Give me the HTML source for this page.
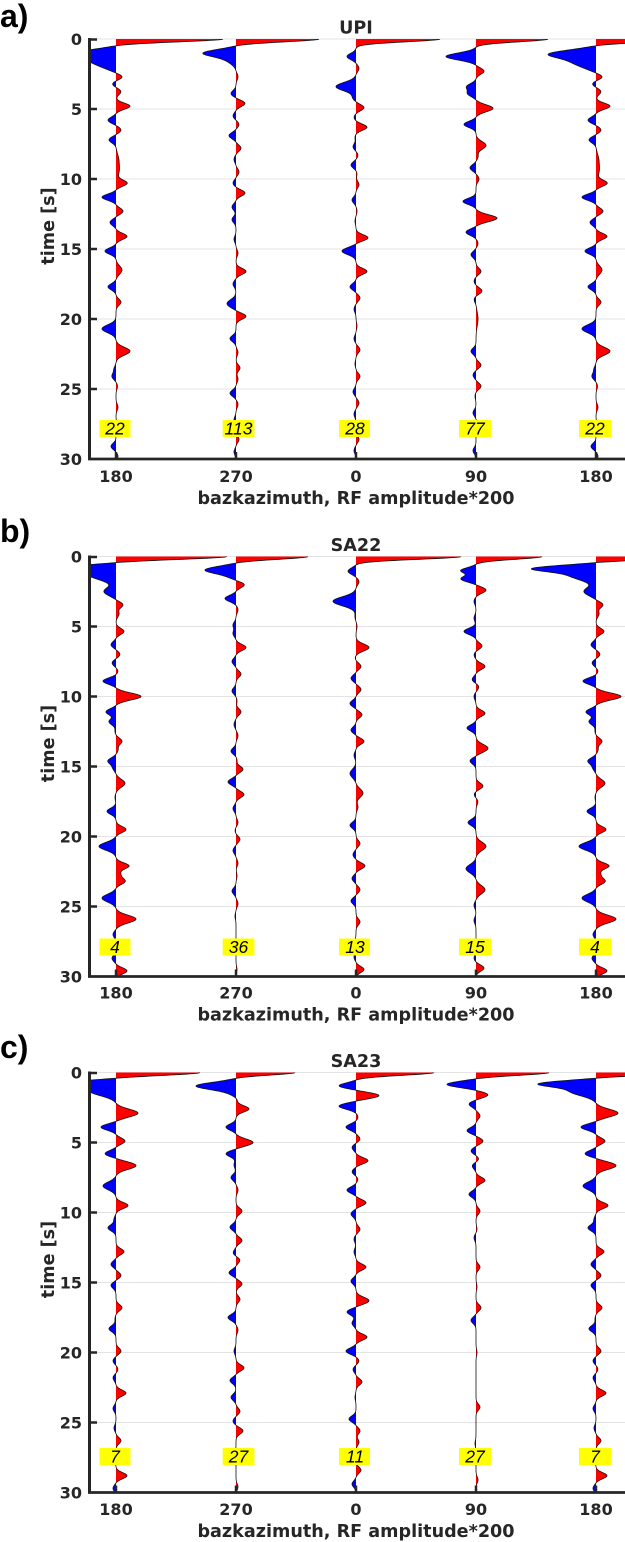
<!DOCTYPE html>
<html><head><meta charset="utf-8">
<style>
html,body{margin:0;padding:0;background:#fff;}
svg{display:block;}
.tk{font-family:"DejaVu Sans",sans-serif;font-weight:bold;font-size:16px;fill:#262626;}
.lb{font-family:"DejaVu Sans",sans-serif;font-weight:bold;font-size:17.6px;fill:#262626;}
.pl{font-family:"Liberation Sans",sans-serif;font-weight:bold;font-size:32px;fill:#000;}
.nm{font-family:"Liberation Sans",sans-serif;font-style:italic;font-size:17.5px;fill:#000;}
.gr{stroke:#e3e3e3;stroke-width:1;}
.ax{stroke:#262626;fill:none;}
</style></head><body>
<svg id="s" width="625" height="1542" viewBox="0 0 625 1542" xmlns="http://www.w3.org/2000/svg">
<defs>
<clipPath id="ca"><rect x="90.5" y="39" width="540" height="420"/></clipPath>
<clipPath id="cb"><rect x="90.5" y="556.5" width="540" height="420"/></clipPath>
<clipPath id="cc"><rect x="90.5" y="1072.5" width="540" height="420"/></clipPath>
</defs>

<text class="pl" x="0" y="27">a)</text>
<text class="pl" x="0" y="542">b)</text>
<text class="pl" x="0" y="1058">c)</text>

<!-- ============ PANEL A ============ -->
<g transform="translate(0,39)">
<g class="gr"><line x1="91" x2="625" y1="0" y2="0"/><line x1="91" x2="625" y1="70" y2="70"/><line x1="91" x2="625" y1="140" y2="140"/><line x1="91" x2="625" y1="210" y2="210"/><line x1="91" x2="625" y1="280" y2="280"/><line x1="91" x2="625" y1="350" y2="350"/></g>
</g>
<g id="ta" clip-path="url(#ca)"></g>
<g transform="translate(0,39)">
<line class="ax" x1="89.5" x2="89.5" y1="-1" y2="421" stroke-width="3"/>
<line class="ax" x1="88" x2="625" y1="420" y2="420" stroke-width="2.8"/>
<g class="ax" stroke-width="2.5"><line x1="89.5" x2="97" y1="0.5" y2="0.5"/><line x1="89.5" x2="97" y1="70" y2="70"/><line x1="89.5" x2="97" y1="140" y2="140"/><line x1="89.5" x2="97" y1="210" y2="210"/><line x1="89.5" x2="97" y1="280" y2="280"/><line x1="89.5" x2="97" y1="350" y2="350"/></g>
<g class="ax" stroke-width="2.5"><line x1="116" x2="116" y1="420" y2="413"/><line x1="236" x2="236" y1="420" y2="413"/><line x1="356" x2="356" y1="420" y2="413"/><line x1="476" x2="476" y1="420" y2="413"/><line x1="596" x2="596" y1="420" y2="413"/></g>
<g class="tk" text-anchor="end"><text x="82" y="6">0</text><text x="82" y="76">5</text><text x="82" y="146">10</text><text x="82" y="216">15</text><text x="82" y="286">20</text><text x="82" y="356">25</text><text x="82" y="426">30</text></g>
<g class="tk" text-anchor="middle"><text x="116" y="443">180</text><text x="236" y="443">270</text><text x="356" y="443">0</text><text x="476" y="443">90</text><text x="596" y="443">180</text></g>
<text class="lb" x="356" y="465" text-anchor="middle">bazkazimuth, RF amplitude*200</text>
<text class="lb" text-anchor="middle" transform="translate(54,187) rotate(-90)">time [s]</text>
<text class="lb" x="356" y="-5.5" text-anchor="middle">UPI</text>
<g fill="#ffff00"><rect x="99.5" y="381" width="31" height="17"/><rect x="222.7" y="381" width="31.7" height="17"/><rect x="339" y="381" width="31" height="17"/><rect x="459" y="381" width="32" height="17"/><rect x="579" y="381" width="32" height="17"/></g>
<g class="nm" text-anchor="middle"><text x="115" y="395.5">22</text><text x="238.5" y="395.5">113</text><text x="355" y="395.5">28</text><text x="475" y="395.5">77</text><text x="595" y="395.5">22</text></g>
</g>

<!-- ============ PANEL B ============ -->
<g transform="translate(0,556.5)">
<g class="gr"><line x1="91" x2="625" y1="0" y2="0"/><line x1="91" x2="625" y1="70" y2="70"/><line x1="91" x2="625" y1="140" y2="140"/><line x1="91" x2="625" y1="210" y2="210"/><line x1="91" x2="625" y1="280" y2="280"/><line x1="91" x2="625" y1="350" y2="350"/></g>
</g>
<g id="tb" clip-path="url(#cb)"></g>
<g transform="translate(0,556.5)">
<line class="ax" x1="89.5" x2="89.5" y1="-1" y2="421" stroke-width="3"/>
<line class="ax" x1="88" x2="625" y1="420" y2="420" stroke-width="2.8"/>
<g class="ax" stroke-width="2.5"><line x1="89.5" x2="97" y1="0.5" y2="0.5"/><line x1="89.5" x2="97" y1="70" y2="70"/><line x1="89.5" x2="97" y1="140" y2="140"/><line x1="89.5" x2="97" y1="210" y2="210"/><line x1="89.5" x2="97" y1="280" y2="280"/><line x1="89.5" x2="97" y1="350" y2="350"/></g>
<g class="ax" stroke-width="2.5"><line x1="116" x2="116" y1="420" y2="413"/><line x1="236" x2="236" y1="420" y2="413"/><line x1="356" x2="356" y1="420" y2="413"/><line x1="476" x2="476" y1="420" y2="413"/><line x1="596" x2="596" y1="420" y2="413"/></g>
<g class="tk" text-anchor="end"><text x="82" y="6">0</text><text x="82" y="76">5</text><text x="82" y="146">10</text><text x="82" y="216">15</text><text x="82" y="286">20</text><text x="82" y="356">25</text><text x="82" y="426">30</text></g>
<g class="tk" text-anchor="middle"><text x="116" y="442">180</text><text x="236" y="442">270</text><text x="356" y="442">0</text><text x="476" y="442">90</text><text x="596" y="442">180</text></g>
<text class="lb" x="356" y="464" text-anchor="middle">bazkazimuth, RF amplitude*200</text>
<text class="lb" text-anchor="middle" transform="translate(54,187) rotate(-90)">time [s]</text>
<text class="lb" x="356" y="-5.5" text-anchor="middle">SA22</text>
<g fill="#ffff00"><rect x="99.5" y="382" width="31" height="17"/><rect x="222.7" y="382" width="31.7" height="17"/><rect x="339" y="382" width="31" height="17"/><rect x="459" y="382" width="32" height="17"/><rect x="579" y="382" width="32" height="17"/></g>
<g class="nm" text-anchor="middle"><text x="115" y="396.5">4</text><text x="238.5" y="396.5">36</text><text x="355" y="396.5">13</text><text x="475" y="396.5">15</text><text x="595" y="396.5">4</text></g>
</g>

<!-- ============ PANEL C ============ -->
<g transform="translate(0,1072.5)">
<g class="gr"><line x1="91" x2="625" y1="0" y2="0"/><line x1="91" x2="625" y1="70" y2="70"/><line x1="91" x2="625" y1="140" y2="140"/><line x1="91" x2="625" y1="210" y2="210"/><line x1="91" x2="625" y1="280" y2="280"/><line x1="91" x2="625" y1="350" y2="350"/></g>
</g>
<g id="tc" clip-path="url(#cc)"></g>
<g transform="translate(0,1072.5)">
<line class="ax" x1="89.5" x2="89.5" y1="-1" y2="421" stroke-width="3"/>
<line class="ax" x1="88" x2="625" y1="420" y2="420" stroke-width="2.8"/>
<g class="ax" stroke-width="2.5"><line x1="89.5" x2="97" y1="0.5" y2="0.5"/><line x1="89.5" x2="97" y1="70" y2="70"/><line x1="89.5" x2="97" y1="140" y2="140"/><line x1="89.5" x2="97" y1="210" y2="210"/><line x1="89.5" x2="97" y1="280" y2="280"/><line x1="89.5" x2="97" y1="350" y2="350"/></g>
<g class="ax" stroke-width="2.5"><line x1="116" x2="116" y1="420" y2="413"/><line x1="236" x2="236" y1="420" y2="413"/><line x1="356" x2="356" y1="420" y2="413"/><line x1="476" x2="476" y1="420" y2="413"/><line x1="596" x2="596" y1="420" y2="413"/></g>
<g class="tk" text-anchor="end"><text x="82" y="6">0</text><text x="82" y="76">5</text><text x="82" y="146">10</text><text x="82" y="216">15</text><text x="82" y="286">20</text><text x="82" y="356">25</text><text x="82" y="426">30</text></g>
<g class="tk" text-anchor="middle"><text x="116" y="442.5">180</text><text x="236" y="442.5">270</text><text x="356" y="442.5">0</text><text x="476" y="442.5">90</text><text x="596" y="442.5">180</text></g>
<text class="lb" x="356" y="464.5" text-anchor="middle">bazkazimuth, RF amplitude*200</text>
<text class="lb" text-anchor="middle" transform="translate(54,187) rotate(-90)">time [s]</text>
<text class="lb" x="356" y="-5.5" text-anchor="middle">SA23</text>
<g fill="#ffff00"><rect x="99.5" y="375.5" width="31" height="17"/><rect x="222.7" y="375.5" width="31.7" height="17"/><rect x="339" y="375.5" width="31" height="17"/><rect x="459" y="375.5" width="32" height="17"/><rect x="579" y="375.5" width="32" height="17"/></g>
<g class="nm" text-anchor="middle"><text x="115" y="390">7</text><text x="238.5" y="390">27</text><text x="355" y="390">11</text><text x="475" y="390">27</text><text x="595" y="390">7</text></g>
</g>
</svg>

<script>
(function(){
var A1=[[0,107,0.2],[1.05,-40,0.28],[1.65,-22,0.4],[2.7,7],[3.2,-4],[3.75,5],[4.8,14],[5.8,-8],[6.5,5],[7.2,-7],[8.6,2.5,0.4],[9.4,3,0.4],[10.3,11],[11.3,-14],[12.3,7],[13.1,-6],[14.1,11],[15.15,-11],[16.5,6,0.3],[17.7,-8],[18.8,5],[20.7,-14,0.28],[22.3,14,0.28],[23.6,-2],[24.1,-4],[24.8,1.5],[26.3,2],[27.7,4],[29.1,-5],[29.8,2]];
var A2=[[0,83,0.2],[1.0,-31,0.25],[1.5,-8,0.3],[2.7,2],[3.9,-5],[4.6,9],[5.5,-3],[6.1,3],[6.9,-7],[7.8,5],[8.6,-2],[9.5,3],[10.3,-3],[11.0,9],[12.0,-4],[12.9,-4],[14.3,-2],[15.3,2],[16.6,10],[17.5,-3],[18.9,-9,0.28],[19.8,10],[21.4,-6],[22.4,2],[23.5,4],[24.3,2],[25.3,-6],[26.1,2],[27.2,-2],[28.6,3],[29.5,-2]];
var A3=[[0,84,0.2],[1.25,-9,0.22],[2.1,3],[3.4,-20,0.3],[4.2,-3],[4.9,8],[5.6,-2],[6.3,11],[7.0,-1],[7.7,-3],[8.3,2],[9.0,-5],[9.6,1],[10.4,3],[11.5,-4],[12.3,1],[13.0,-1],[14.2,12],[15.15,-14,0.25],[16.6,11],[17.7,-6],[18.5,4],[19.3,-2],[20.5,1],[21.4,-2],[22.2,4],[23.2,-1],[24.1,4],[25.2,-3],[26.0,3],[26.8,-2],[28.6,3],[29.4,-2]];
var A4=[[0,72,0.2],[1.25,-30,0.25],[2.3,8],[3.4,-9,0.22],[3.9,-8,0.22],[4.95,17,0.25],[6.1,-12],[7.6,10,0.28],[8.4,2],[9.2,-6],[10.0,3],[11.6,-13],[12.8,21,0.25],[13.8,-10],[14.6,2],[15.4,-5],[16.6,5],[17.3,-2],[18.0,6],[18.6,-2],[20.0,2,0.5],[22.3,-5],[23.3,5],[24.0,-3],[24.8,5],[25.5,-1],[26.7,-3],[27.5,1],[29.4,-3]];

var B1=[[0,111,0.2],[0.85,-55,0.22],[1.35,-25,0.35],[2.5,-12,0.3],[3.45,7],[4.1,3],[5.35,8],[6.3,-5],[7.0,4],[7.6,-4],[8.2,2],[8.9,-13],[10.0,25,0.25],[11.1,-10],[11.8,-7],[12.5,-1],[13.2,6],[13.8,2],[14.6,-8],[15.1,-3],[16.2,9,0.28],[17.2,-1],[18.2,-9],[19.5,10],[20.7,-17,0.28],[22.1,13],[22.7,4],[23.2,9],[24.4,-14,0.28],[25.9,20,0.28],[27.0,-3],[28.7,-4],[29.6,11]];
var B2=[[0,72,0.2],[0.95,-29,0.25],[1.4,-6,0.3],[2.0,9],[3.0,-11],[3.8,2],[4.9,-3],[5.5,-3],[6.5,10],[7.5,-4],[8.4,5],[9.6,-4],[10.3,1],[11.1,5],[12.0,-2],[12.8,2],[13.9,-5],[14.5,1],[15.2,7],[16.1,-8],[17.0,8],[18.0,-3],[19.0,2],[19.6,-1],[20.2,4],[21.0,-3],[21.9,2],[22.8,1],[23.9,-4],[24.8,2],[25.7,-1],[29.5,1]];
var B3=[[0,105,0.2],[1.05,-8],[1.8,3],[3.2,-23,0.32],[4.3,-1],[5.0,1],[6.5,13,0.25],[7.2,-1],[7.85,5],[8.7,-5],[9.5,5],[10.5,-6],[11.3,6],[12.4,-5],[13.2,8],[14.2,-2],[15.5,-6,0.3],[16.9,7,0.3],[17.9,2],[19.2,-6],[20.5,4],[21.3,-3],[22.1,9],[23.0,-4],[23.8,4],[24.6,-5],[26.1,4],[27.5,-1],[28.6,-2],[29.5,8]];
var B4=[[0,66,0.2],[1.0,-15,0.2],[1.6,-15,0.22],[2.4,10],[3.2,-2],[4.4,-2],[5.35,-12],[6.4,6],[7.0,-2],[7.85,9],[8.8,-4],[9.3,3],[10.0,-2],[11.2,9],[12.25,-9],[13.7,12,0.28],[14.6,-6],[16.4,7],[17.0,-2],[17.5,2],[19.0,-8],[20.7,10,0.3],[22.3,-10,0.3],[23.8,9,0.3],[24.9,-2],[26.0,-2],[28.7,-2],[29.4,8]];

var C1=[[0,84,0.2],[0.8,-52,0.22],[1.35,-25,0.32],[2.9,22,0.28],[3.9,-15],[4.9,9],[5.8,-11],[6.65,20,0.27],[8.1,-13,0.28],[9.5,12],[10.5,-2],[11.1,-8],[12.8,8],[13.7,-5],[14.5,5],[15.2,-5],[16.8,6],[17.6,-1],[18.3,-7],[19.9,5],[20.6,-3],[21.2,2],[21.8,-3],[22.9,10],[24.0,-3],[25.4,-2],[26.3,5],[27.7,-1],[28.8,11],[29.7,-3]];
var C2=[[0,59,0.18],[0.95,-38,0.25],[1.4,-6,0.3],[1.9,2],[2.6,13],[3.9,-10],[5.0,17,0.25],[5.8,-10],[6.6,-2],[7.5,-5],[8.4,2],[9.9,6],[11.05,-6],[12.0,6],[12.9,-3],[13.4,4],[14.3,-7],[15.1,6],[16.2,4],[17.5,-8],[18.4,2],[19.9,-2],[21.1,8],[22.0,-6],[23.2,-5],[24.2,4],[24.9,-3],[25.6,7],[27.3,-2],[29.6,2]];
var C3=[[0,78,0.2],[0.95,-17,0.2],[1.65,23,0.22],[2.4,-17,0.22],[3.2,2],[3.9,-10],[4.75,4],[5.35,-4],[6.3,12],[7.1,-4],[7.6,2],[8.4,-9],[9.3,10],[10.1,-5],[11.2,4],[11.9,-2],[12.8,-2],[13.9,10],[14.9,-5],[16.3,13,0.25],[17.1,-9],[17.9,-4],[18.9,11],[19.9,-10],[20.6,3],[21.2,-3],[22.1,6],[23.2,-1],[24.75,-7],[25.6,4],[26.4,3],[28.4,5],[29.4,-4]];
var C4=[[0,73,0.2],[0.85,-29,0.22],[1.6,12],[2.25,-7],[3.1,4],[4.15,-9],[4.9,7],[5.6,-5],[6.2,3],[6.65,-4],[7.7,9],[8.7,-7],[9.9,4],[11.2,1],[11.8,-2],[13.9,4],[15.3,1],[16.8,5],[17.7,-5],[20.0,1],[23.9,4],[26.5,-1],[29.1,2]];

var panels=[{id:"ta",T:39,tr:[A1,A2,A3,A4,A1]},{id:"tb",T:556.5,tr:[B1,B2,B3,B4,B1]},{id:"tc",T:1072.5,tr:[C1,C2,C3,C4,C1]}];
var X=[116,236,356,476,596];
var NS="http://www.w3.org/2000/svg";
function val(f,t){var s=0;for(var i=0;i<f.length;i++){var sg=f[i][2]||0.22;var d=(t-f[i][0])/sg;var q=d*d;if(q<60)s+=f[i][1]*Math.exp(-0.5*q);}return s;}
function mk(d,fill,stroke,sw){var p=document.createElementNS(NS,"path");p.setAttribute("d",d);p.setAttribute("fill",fill);if(stroke){p.setAttribute("stroke",stroke);p.setAttribute("stroke-width",sw);p.setAttribute("stroke-linejoin","round");}else{p.setAttribute("stroke","none");}return p;}
panels.forEach(function(P){
  var g=document.getElementById(P.id);
  P.tr.forEach(function(f,i){
    var x0=X[i],T=P.T,B=T+420;
    var pos="M"+x0+" "+T,neg="M"+x0+" "+T,ln="";
    var n=1500;
    for(var k=0;k<=n;k++){
      var t=30*k/n,v=val(f,t),y=(T+14*t).toFixed(2);
      pos+=" L"+(x0+Math.max(0,v)).toFixed(2)+" "+y;
      neg+=" L"+(x0+Math.min(0,v)).toFixed(2)+" "+y;
      ln+=(k?" L":"M")+(x0+v).toFixed(2)+" "+y;
    }
    pos+=" L"+x0+" "+B+" Z";neg+=" L"+x0+" "+B+" Z";
    g.appendChild(mk(pos,"#ff0000"));
    g.appendChild(mk(neg,"#0000ff"));
    g.appendChild(mk(ln,"none","#111",0.8));
  });
});
})();
</script>
</body></html>
